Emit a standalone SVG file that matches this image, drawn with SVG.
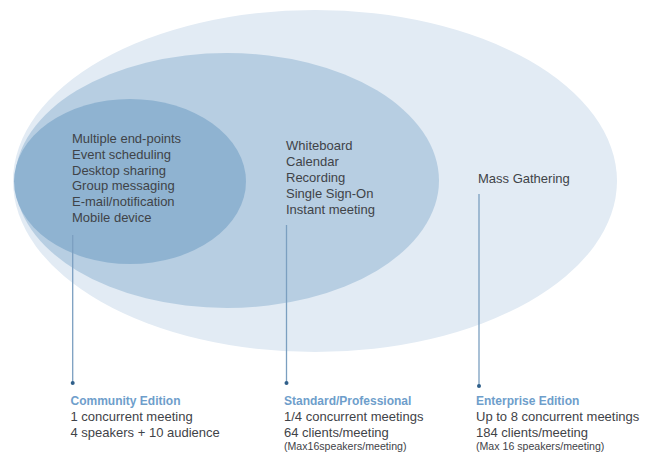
<svg xmlns="http://www.w3.org/2000/svg" width="647" height="453" viewBox="0 0 647 453">
<style>
.t{font-family:"Liberation Sans",Arial,sans-serif;font-size:13px;fill:#3f4348}
.h{font-family:"Liberation Sans",Arial,sans-serif;font-size:12px;font-weight:bold;fill:#6e9ecb}
.s{font-family:"Liberation Sans",Arial,sans-serif;font-size:10.6px;fill:#3f4348}
.ln{stroke:#7b9fc0;stroke-width:1.3;fill:none}
.dot{fill:#2f5f8a}
</style>
<rect width="647" height="453" fill="#ffffff"/>
<g id="enterprise">
<ellipse cx="315" cy="181" rx="302" ry="171" fill="#e2ebf4"/>
<text class="t" x="478" y="183">Mass Gathering</text>
</g>
<g id="standard">
<ellipse cx="227" cy="180.5" rx="212" ry="127.5" fill="#b7cee2"/>
<text class="t" x="286" y="150">Whiteboard</text>
<text class="t" x="286" y="166">Calendar</text>
<text class="t" x="286" y="182">Recording</text>
<text class="t" x="286" y="198">Single Sign-On</text>
<text class="t" x="286" y="214">Instant meeting</text>
</g>
<g id="community">
<ellipse cx="130" cy="181.5" rx="116" ry="82.5" fill="#8fb3d1"/>
<text class="t" x="72" y="143">Multiple end-points</text>
<text class="t" x="72" y="159">Event scheduling</text>
<text class="t" x="72" y="174.5">Desktop sharing</text>
<text class="t" x="72" y="190">Group messaging</text>
<text class="t" x="72" y="206">E-mail/notification</text>
<text class="t" x="72" y="222">Mobile device</text>
</g>
<g id="connectors">
<line class="ln" x1="72.7" y1="235" x2="72.7" y2="383"/>
<circle class="dot" cx="72.7" cy="383" r="2"/>
<line class="ln" x1="286.5" y1="225" x2="286.5" y2="383"/>
<circle class="dot" cx="286.5" cy="383" r="2"/>
<line class="ln" x1="479" y1="194" x2="479" y2="386"/>
<circle class="dot" cx="479" cy="386" r="2"/>
</g>
<g id="label-community">
<text class="h" x="70.5" y="405">Community Edition</text>
<text class="t" x="70.5" y="421">1 concurrent meeting</text>
<text class="t" x="70.5" y="437">4 speakers + 10 audience</text>
</g>
<g id="label-standard">
<text class="h" x="284" y="405">Standard/Professional</text>
<text class="t" x="284" y="421">1/4 concurrent meetings</text>
<text class="t" x="284" y="437">64 clients/meeting</text>
<text class="s" x="284" y="449.5">(Max16speakers/meeting)</text>
</g>
<g id="label-enterprise">
<text class="h" x="476" y="405">Enterprise Edition</text>
<text class="t" x="476" y="421">Up to 8 concurrent meetings</text>
<text class="t" x="476" y="437">184 clients/meeting</text>
<text class="s" x="476" y="449.5">(Max 16 speakers/meeting)</text>
</g>
</svg>
